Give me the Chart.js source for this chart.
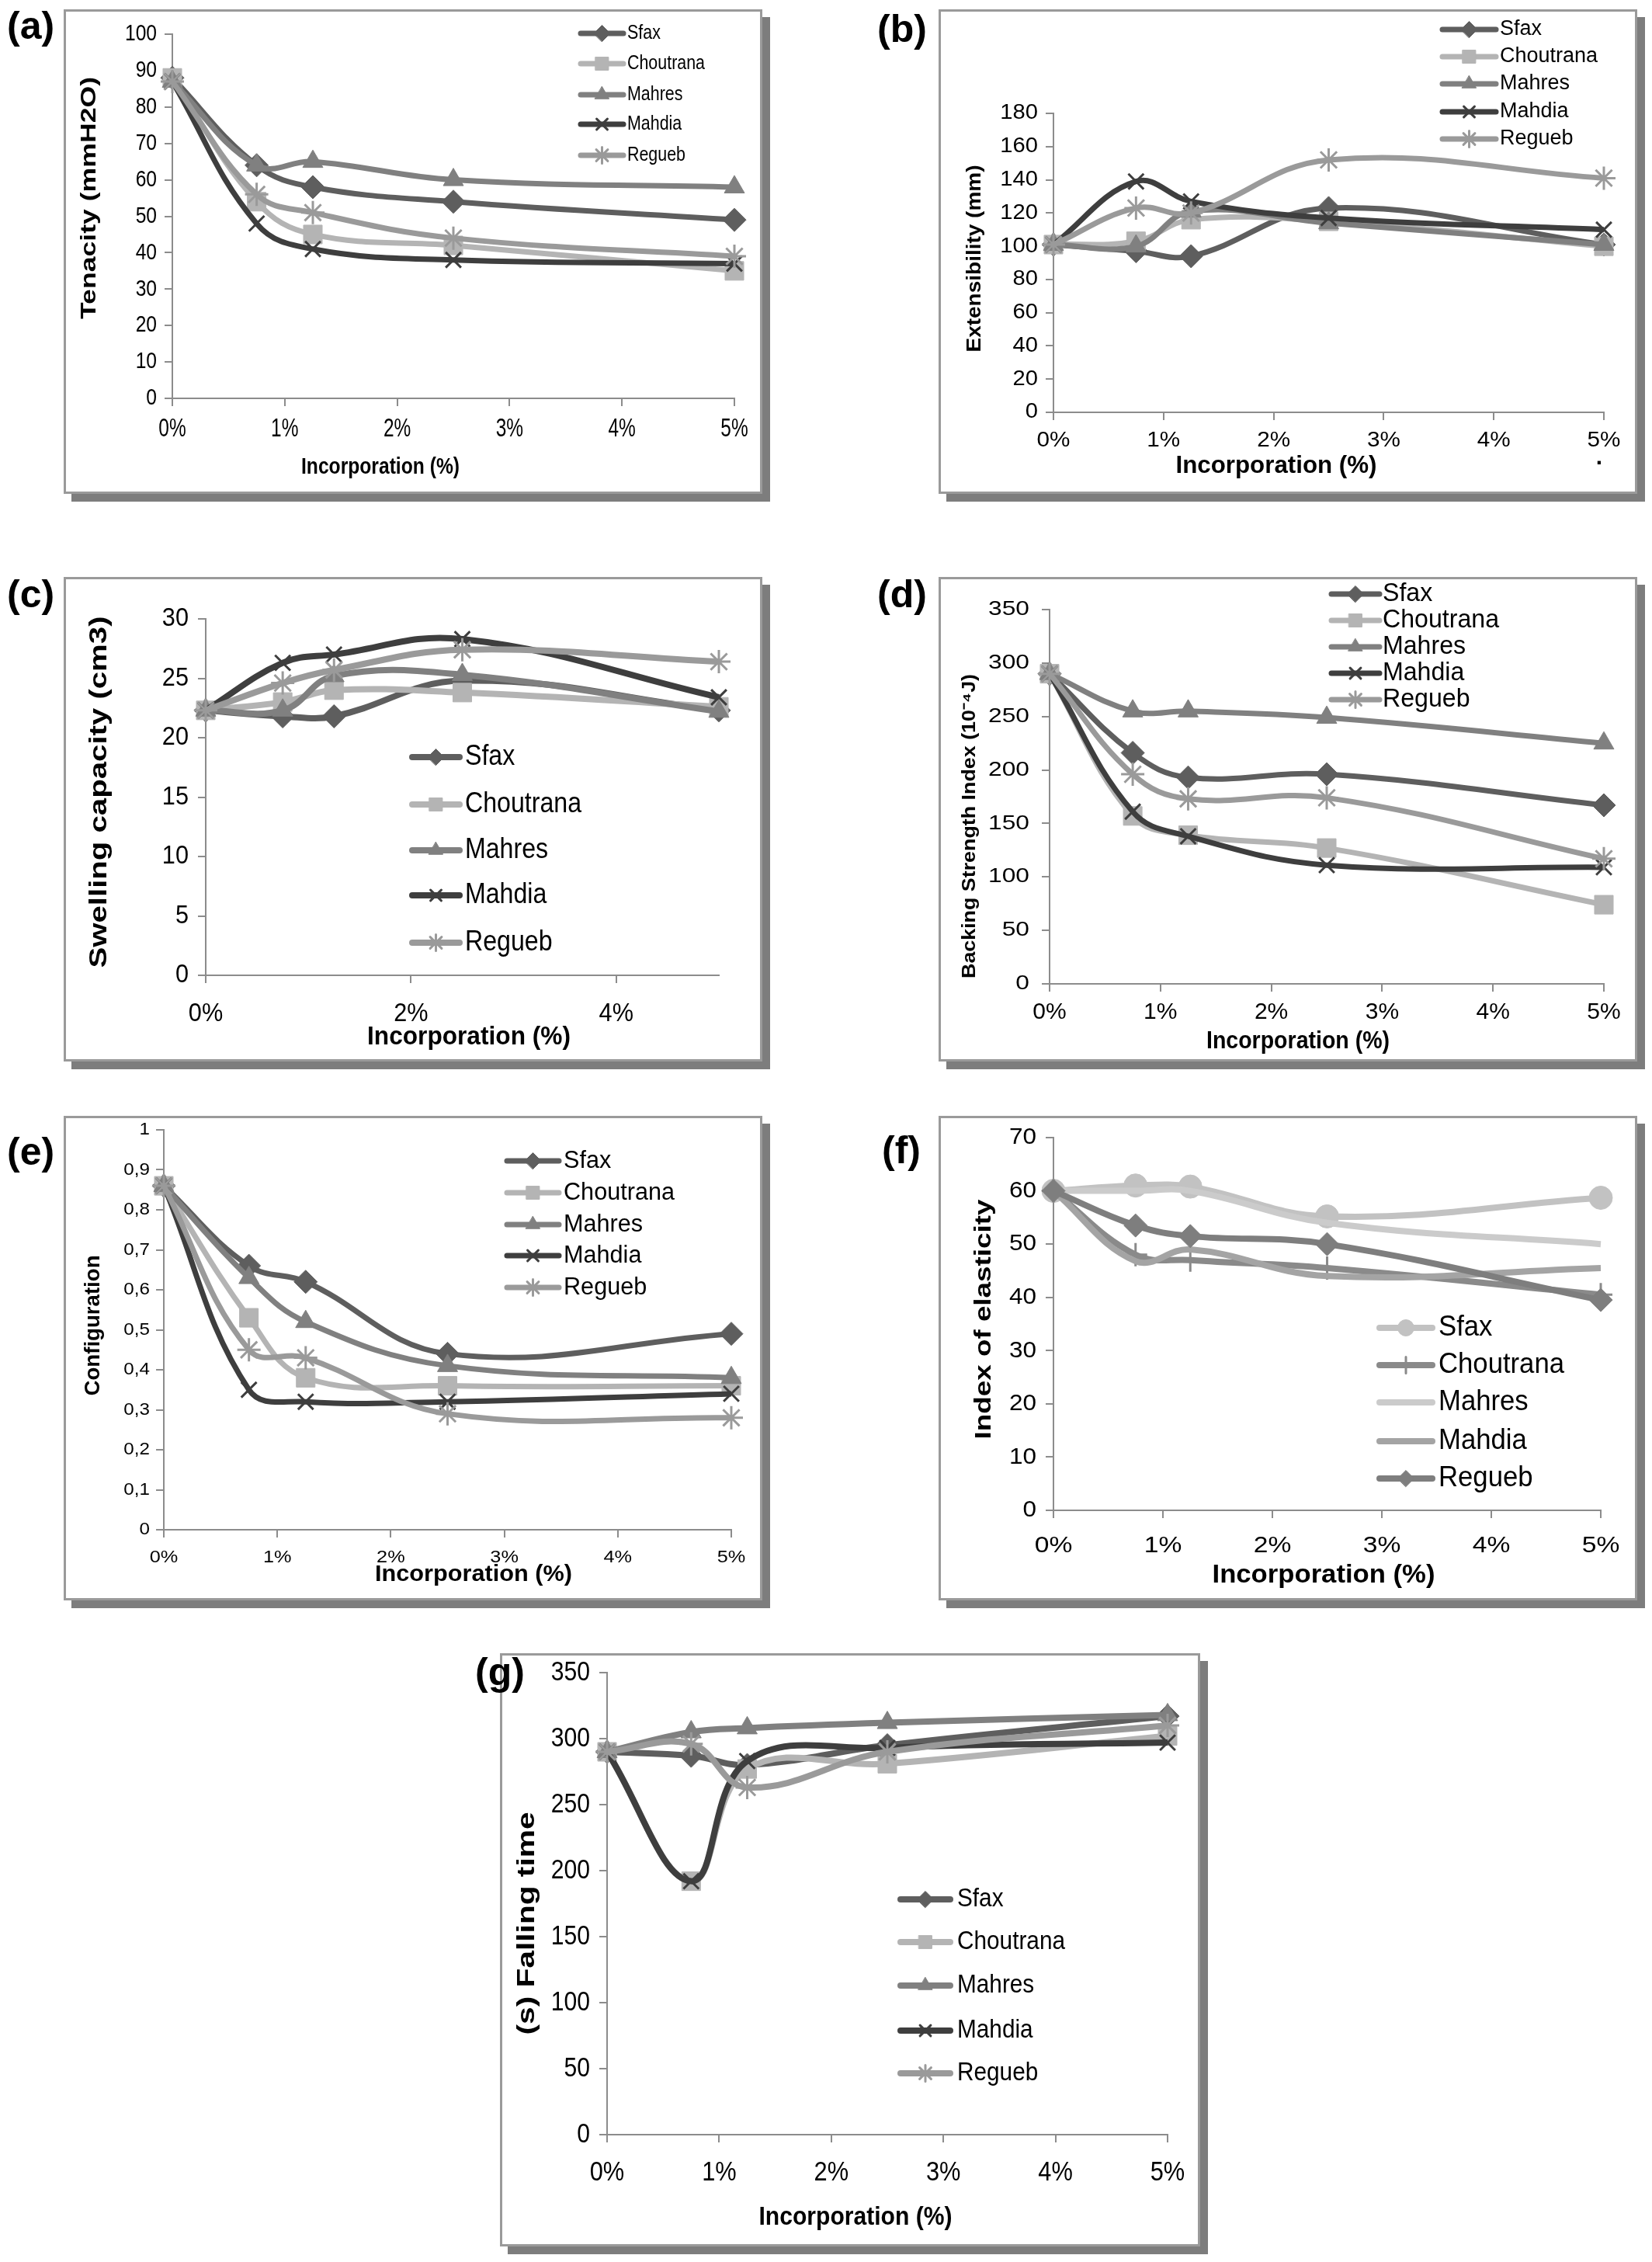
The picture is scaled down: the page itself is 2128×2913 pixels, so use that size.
<!DOCTYPE html>
<html lang="en">
<head>
<meta charset="UTF-8">
<title>Incorporation effect on dough properties</title>
<script src="https://cdn.jsdelivr.net/npm/chart.js"></script>
<style>
    html, body { margin: 0; padding: 0; background: #fff; }
    body { position: relative; width: 2128px; height: 2913px; overflow: hidden; }
    .frame {
        position: absolute;
        box-sizing: border-box;
        border: 3px solid #9a9a9a;
        background: #fff;
        box-shadow: 10px 10px 0 #7d7d7d;
    }
    .frame canvas { position: absolute; left: -3px; top: -3px; }
    .tag { position: absolute; font: bold 50px 'Liberation Sans', Arial, sans-serif; line-height: 50px; color: #000; }
</style>
</head>
<body>
<script>
// ---------- data ----------
const xPos = [0, 0.75, 1.25, 2.5, 5];           // incorporation (%)
const regions = ['Sfax', 'Choutrana', 'Mahres', 'Mahdia', 'Regueb'];
const pctTicks = [0, 1, 2, 3, 4, 5];
const pctTicksC = [0, 2, 4];

// (a) tenacity (mmH2O)
const tenAxis = [0, 100, 10];
const tenSfax = [88, 64, 58, 54, 49];
const tenChoutrana = [88, 54, 45, 42, 35];
const tenMahres = [87, 64, 65, 60, 58];
const tenMahdia = [87, 48, 41, 38, 37];
const tenRegueb = [87, 56, 51, 44, 39];

// (b) extensibility (mm)
const extAxis = [0, 180, 20];
const extSfax = [101, 97, 94, 123, 101];
const extChoutrana = [101, 103, 116, 115, 100];
const extMahres = [101, 100, 121, 114, 101];
const extMahdia = [101, 139, 127, 117, 110];
const extRegueb = [101, 123, 120, 152, 141];

// (c) swelling capacity (cm3)
const swAxis = [0, 30, 5];
const swSfax = [22.3, 21.8, 21.8, 24.8, 22.3];
const swChoutrana = [22.3, 23, 24, 23.8, 22.6];
const swMahres = [22.3, 22.3, 25.2, 25.3, 22.2];
const swMahdia = [22.3, 26.3, 27, 28.3, 23.4];
const swRegueb = [22.3, 24.6, 25.7, 27.4, 26.4];

// (d) backing strength index (10^-4 J)
const bsAxis = [0, 350, 50];
const bsSfax = [290, 216, 193, 196, 167];
const bsChoutrana = [290, 157, 139, 127, 74];
const bsMahres = [290, 255, 255, 249, 225];
const bsMahdia = [290, 161, 138, 111, 109];
const bsRegueb = [290, 196, 173, 174, 117];

// (e) configuration
const cfAxis = [0, 1, 0.1];
const cfSfax = [0.86, 0.66, 0.62, 0.44, 0.49];
const cfChoutrana = [0.86, 0.53, 0.38, 0.36, 0.36];
const cfMahres = [0.86, 0.63, 0.52, 0.41, 0.38];
const cfMahdia = [0.86, 0.35, 0.32, 0.32, 0.34];
const cfRegueb = [0.86, 0.45, 0.43, 0.29, 0.28];

// (f) index of elasticity
const elAxis = [0, 70, 10];
const elSfax = [60, 61, 60.8, 55.2, 58.7];
const elChoutrana = [60, 48, 47, 45.5, 40.5];
const elMahres = [60, 60, 60, 54, 50];
const elMahdia = [60, 46.8, 49, 44, 45.5];
const elRegueb = [60, 53.5, 51.5, 50, 39.5];

// (g) falling time (s)
const ftAxis = [0, 350, 50];
const ftSfax = [290, 287, 280, 295, 317];
const ftChoutrana = [290, 192, 277, 281, 302];
const ftMahres = [290, 305, 308, 312, 318];
const ftMahdia = [290, 192, 283, 293, 297];
const ftRegueb = [290, 296, 263, 290, 310];

// ---------- styles ----------
const stdStyle = [
    { color: '#5e5e5e', point: 'rectRot', r: 15, open: false },
    { color: '#b4b4b4', point: 'rect', r: 17, open: false },
    { color: '#808080', point: 'triangle', r: 15, open: false },
    { color: '#3e3e3e', point: 'crossRot', r: 14, open: true },
    { color: '#9a9a9a', point: 'star', r: 15, open: true }
];
const elStyle = [
    { color: '#c2c2c2', point: 'circle', r: 15, open: false },
    { color: '#8a8a8a', point: 'cross', r: 15, open: true },
    { color: '#cbcbcb', point: false, r: 0, open: false },
    { color: '#a4a4a4', point: false, r: 0, open: false },
    { color: '#7e7e7e', point: 'rectRot', r: 15, open: false }
];

// ---------- panels (page pixel positions) ----------
// yLab / xLab: [font size, horizontal squeeze, gap from axis]
const panels = [
    { tag: '(a)', tagPos: [9, 8], frame: [82, 12, 900, 624], plot: [222, 44, 946, 513],
      axis: tenAxis, xTicks: pctTicks, series: [tenSfax, tenChoutrana, tenMahres, tenMahdia, tenRegueb], style: stdStyle,
      yLab: [30, 0.82, 20], xLab: [34, 0.72, 40], lineW: 7,
      yTitle: { text: 'Tenacity (mmH2O)', x: 115, y: 255, size: 28, w: 312 },
      xTitle: { x: 490, y: 602, size: 30, w: 204 },
      legend: { x0: 748, x1: 803, tx: 808, y: [43, 82, 122, 160, 200], size: 26, cw: 100 } },
    { tag: '(b)', tagPos: [1130, 12], frame: [1209, 12, 900, 624], plot: [1357, 146, 2066, 531],
      axis: extAxis, xTicks: pctTicks, series: [extSfax, extChoutrana, extMahres, extMahdia, extRegueb], style: stdStyle,
      yLab: [27, 1.08, 20], xLab: [27, 1.1, 37], lineW: 7,
      yTitle: { text: 'Extensibility (mm)', x: 1256, y: 333, size: 25, w: 241 },
      xTitle: { x: 1644, y: 600, size: 31, w: 259 },
      legend: { x0: 1858, x1: 1927, tx: 1932, y: [38, 73, 108, 144, 179], size: 27, cw: 126 },
      extra: { text: '.', x: 2060, y: 590 } },
    { tag: '(c)', tagPos: [9, 740], frame: [82, 743, 900, 624], plot: [265, 797, 926, 1256],
      axis: swAxis, xTicks: pctTicksC, series: [swSfax, swChoutrana, swMahres, swMahdia, swRegueb], style: stdStyle,
      yLab: [33, 0.93, 22], xLab: [33, 0.93, 50], lineW: 8,
      yTitle: { text: 'Swelling capacity (cm3)', x: 128, y: 1020, size: 32, w: 453 },
      xTitle: { x: 604, y: 1336, size: 34, w: 262 },
      legend: { x0: 531, x1: 592, tx: 599, y: [975, 1036, 1095, 1153, 1214], size: 36, cw: 150 } },
    { tag: '(d)', tagPos: [1130, 740], frame: [1209, 743, 900, 624], plot: [1352, 785, 2066, 1267],
      axis: bsAxis, xTicks: pctTicks, series: [bsSfax, bsChoutrana, bsMahres, bsMahdia, bsRegueb], style: stdStyle,
      yLab: [26, 1.22, 26], xLab: [30, 1.0, 37], lineW: 7,
      yTitle: { text: 'Backing Strength Index (10⁻⁴J)', x: 1249, y: 1064, size: 24, w: 392 },
      xTitle: { x: 1672, y: 1341, size: 31, w: 236 },
      legend: { x0: 1715, x1: 1777, tx: 1781, y: [765, 799, 833, 867, 901], size: 33, cw: 150 } },
    { tag: '(e)', tagPos: [9, 1458], frame: [82, 1437, 900, 624], plot: [211, 1455, 942, 1970],
      axis: cfAxis, xTicks: pctTicks, series: [cfSfax, cfChoutrana, cfMahres, cfMahdia, cfRegueb], style: stdStyle,
      yLab: [22, 1.1, 18], xLab: [22, 1.15, 36], lineW: 7, comma: true,
      yTitle: { text: 'Configuration', x: 121, y: 1707, size: 27, w: 181 },
      xTitle: { x: 610, y: 2028, size: 30, w: 254 },
      legend: { x0: 653, x1: 720, tx: 726, y: [1495, 1536, 1577, 1617, 1658], size: 31, cw: 143 } },
    { tag: '(f)', tagPos: [1136, 1456], frame: [1209, 1437, 900, 624], plot: [1357, 1465, 2062, 1945],
      axis: elAxis, xTicks: pctTicks, series: [elSfax, elChoutrana, elMahres, elMahdia, elRegueb], style: elStyle,
      yLab: [30, 1.05, 22], xLab: [30, 1.12, 46], lineW: 8,
      yTitle: { text: 'Index of elasticity', x: 1268, y: 1699, size: 30, w: 309 },
      xTitle: { x: 1705, y: 2029, size: 33, w: 287 },
      legend: { x0: 1777, x1: 1845, tx: 1853, y: [1710, 1758, 1806, 1856, 1904], size: 36, cw: 162 } },
    { tag: '(g)', tagPos: [612, 2128], frame: [644, 2129, 902, 764], plot: [782, 2154, 1504, 2749],
      axis: ftAxis, xTicks: pctTicks, series: [ftSfax, ftChoutrana, ftMahres, ftMahdia, ftRegueb], style: stdStyle,
      yLab: [35, 0.86, 22], xLab: [35, 0.88, 49], lineW: 8,
      yTitle: { text: '(s) Falling time', x: 679, y: 2477, size: 32, w: 287 },
      xTitle: { x: 1102, y: 2856, size: 33, w: 249 },
      legend: { x0: 1160, x1: 1224, tx: 1233, y: [2446, 2501, 2557, 2615, 2670], size: 34, cw: 139 } }
];

const FONT = '"Liberation Sans", Arial, sans-serif';

// text squeezed or stretched to a target width
function fitText(ctx, text, x, y, size, bold, w, rot) {
    ctx.save();
    ctx.translate(x, y);
    if (rot) ctx.rotate(rot);
    ctx.font = (bold ? 'bold ' : '') + size + 'px ' + FONT;
    ctx.fillStyle = '#000';
    ctx.textAlign = 'center';
    ctx.textBaseline = 'middle';
    const k = w / ctx.measureText(text).width;
    ctx.scale(k, 1);
    ctx.fillText(text, 0, 0);
    ctx.restore();
}

// text with a fixed horizontal squeeze (narrow face)
function squeezeText(ctx, text, x, y, size, k, align) {
    ctx.save();
    ctx.translate(x, y);
    ctx.scale(k, 1);
    ctx.font = size + 'px ' + FONT;
    ctx.fillStyle = '#000';
    ctx.textAlign = align;
    ctx.textBaseline = 'middle';
    ctx.fillText(text, 0, 0);
    ctx.restore();
}

// tick labels, titles and the in-plot legend
function decor(p) {
    const fmtY = v => p.comma ? String(+v.toFixed(1)).replace('.', ',') : String(v);
    return {
        id: 'decor',
        afterDraw(chart) {
            const ctx = chart.ctx;
            const ox = p.frame[0], oy = p.frame[1];
            const xs = chart.scales.x, ys = chart.scales.y;

            // tick labels placed by the scales
            ys.ticks.forEach(t => {
                squeezeText(ctx, fmtY(t.value), ys.right - p.yLab[2], ys.getPixelForValue(t.value),
                    p.yLab[0], p.yLab[1], 'right');
            });
            xs.ticks.forEach(t => {
                squeezeText(ctx, t.value + '%', xs.getPixelForValue(t.value), xs.top + p.xLab[2],
                    p.xLab[0], p.xLab[1], 'center');
            });

            const yt = p.yTitle, xt = p.xTitle, L = p.legend;
            fitText(ctx, yt.text, yt.x - ox, yt.y - oy, yt.size, true, yt.w, -Math.PI / 2);
            fitText(ctx, 'Incorporation (%)', xt.x - ox, xt.y - oy, xt.size, true, xt.w, 0);

            if (p.extra) {
                ctx.save();
                ctx.font = 'bold 30px ' + FONT;
                ctx.fillStyle = '#000';
                ctx.textAlign = 'center';
                ctx.textBaseline = 'middle';
                ctx.fillText(p.extra.text, p.extra.x - ox, p.extra.y - oy);
                ctx.restore();
            }

            ctx.save();
            ctx.font = L.size + 'px ' + FONT;
            const k = L.cw / ctx.measureText('Choutrana').width;
            chart.data.datasets.forEach((ds, i) => {
                const y = L.y[i] - oy;
                ctx.strokeStyle = ds.borderColor;
                ctx.lineWidth = ds.borderWidth;
                ctx.lineCap = 'round';
                ctx.beginPath();
                ctx.moveTo(L.x0 - ox, y);
                ctx.lineTo(L.x1 - ox, y);
                ctx.stroke();
                if (ds.pointRadius > 0) {
                    ctx.fillStyle = ds.pointBackgroundColor;
                    ctx.strokeStyle = ds.pointBorderColor;
                    ctx.lineWidth = ds.pointBorderWidth;
                    Chart.helpers.drawPoint(ctx, {
                        pointStyle: ds.pointStyle, radius: ds.pointRadius * 0.7,
                        borderWidth: ds.pointBorderWidth, rotation: 0
                    }, (L.x0 + L.x1) / 2 - ox, y);
                }
                squeezeText(ctx, regions[i], L.tx - ox, y, L.size, k, 'left');
            });
            ctx.restore();
        }
    };
}

function makePanel(p) {
    const [fx, fy, fw, fh] = p.frame;
    const [px0, py0, px1, py1] = p.plot;

    const frame = document.createElement('div');
    frame.className = 'frame';
    Object.assign(frame.style, { left: fx + 'px', top: fy + 'px', width: fw + 'px', height: fh + 'px' });
    const canvas = document.createElement('canvas');
    canvas.width = fw;
    canvas.height = fh;
    frame.appendChild(canvas);
    document.body.appendChild(frame);

    const tag = document.createElement('div');
    tag.className = 'tag';
    tag.textContent = p.tag;
    tag.style.left = p.tagPos[0] + 'px';
    tag.style.top = p.tagPos[1] + 'px';
    document.body.appendChild(tag);

    const padL = px0 - fx, padT = py0 - fy, padR = fx + fw - px1, padB = fy + fh - py1;
    const axisGrey = '#8c8c8c';

    new Chart(canvas, {
        type: 'line',
        data: {
            datasets: p.series.map((vals, i) => {
                const st = p.style[i];
                return {
                    label: regions[i],
                    data: xPos.map((x, k) => ({ x: x, y: vals[k] })),
                    order: -i,                     // later series on top, as in the original
                    borderColor: st.color,
                    backgroundColor: st.color,
                    borderWidth: p.lineW,
                    tension: 0.4,
                    clip: false,
                    pointStyle: st.point || 'circle',
                    pointRadius: st.r,
                    pointHoverRadius: st.r,
                    pointBackgroundColor: st.color,
                    pointBorderColor: st.color,
                    pointBorderWidth: st.open ? 3 : 1
                };
            })
        },
        options: {
            responsive: false,
            animation: false,
            devicePixelRatio: 1,
            layout: { padding: { left: 0, top: padT, right: padR, bottom: 0 } },
            plugins: { legend: { display: false }, tooltip: { enabled: false } },
            scales: {
                x: {
                    type: 'linear',
                    min: 0,
                    max: 5,
                    afterBuildTicks: s => { s.ticks = p.xTicks.map(v => ({ value: v })); },
                    afterFit: s => { s.height = padB; s.paddingLeft = 0; s.paddingRight = 0; },
                    ticks: { display: false },
                    grid: { drawOnChartArea: false, drawTicks: true, tickLength: 10, color: axisGrey, lineWidth: 2 },
                    border: { display: true, color: axisGrey, width: 2 }
                },
                y: {
                    min: p.axis[0],
                    max: p.axis[1],
                    afterFit: s => { s.width = padL; s.paddingTop = 0; s.paddingBottom = 0; },
                    ticks: { display: false, stepSize: p.axis[2], autoSkip: false },
                    grid: { drawOnChartArea: false, drawTicks: true, tickLength: 10, color: axisGrey, lineWidth: 2 },
                    border: { display: true, color: axisGrey, width: 2 }
                }
            }
        },
        plugins: [decor(p)]
    });
}

panels.forEach(makePanel);
</script>
</body>
</html>
